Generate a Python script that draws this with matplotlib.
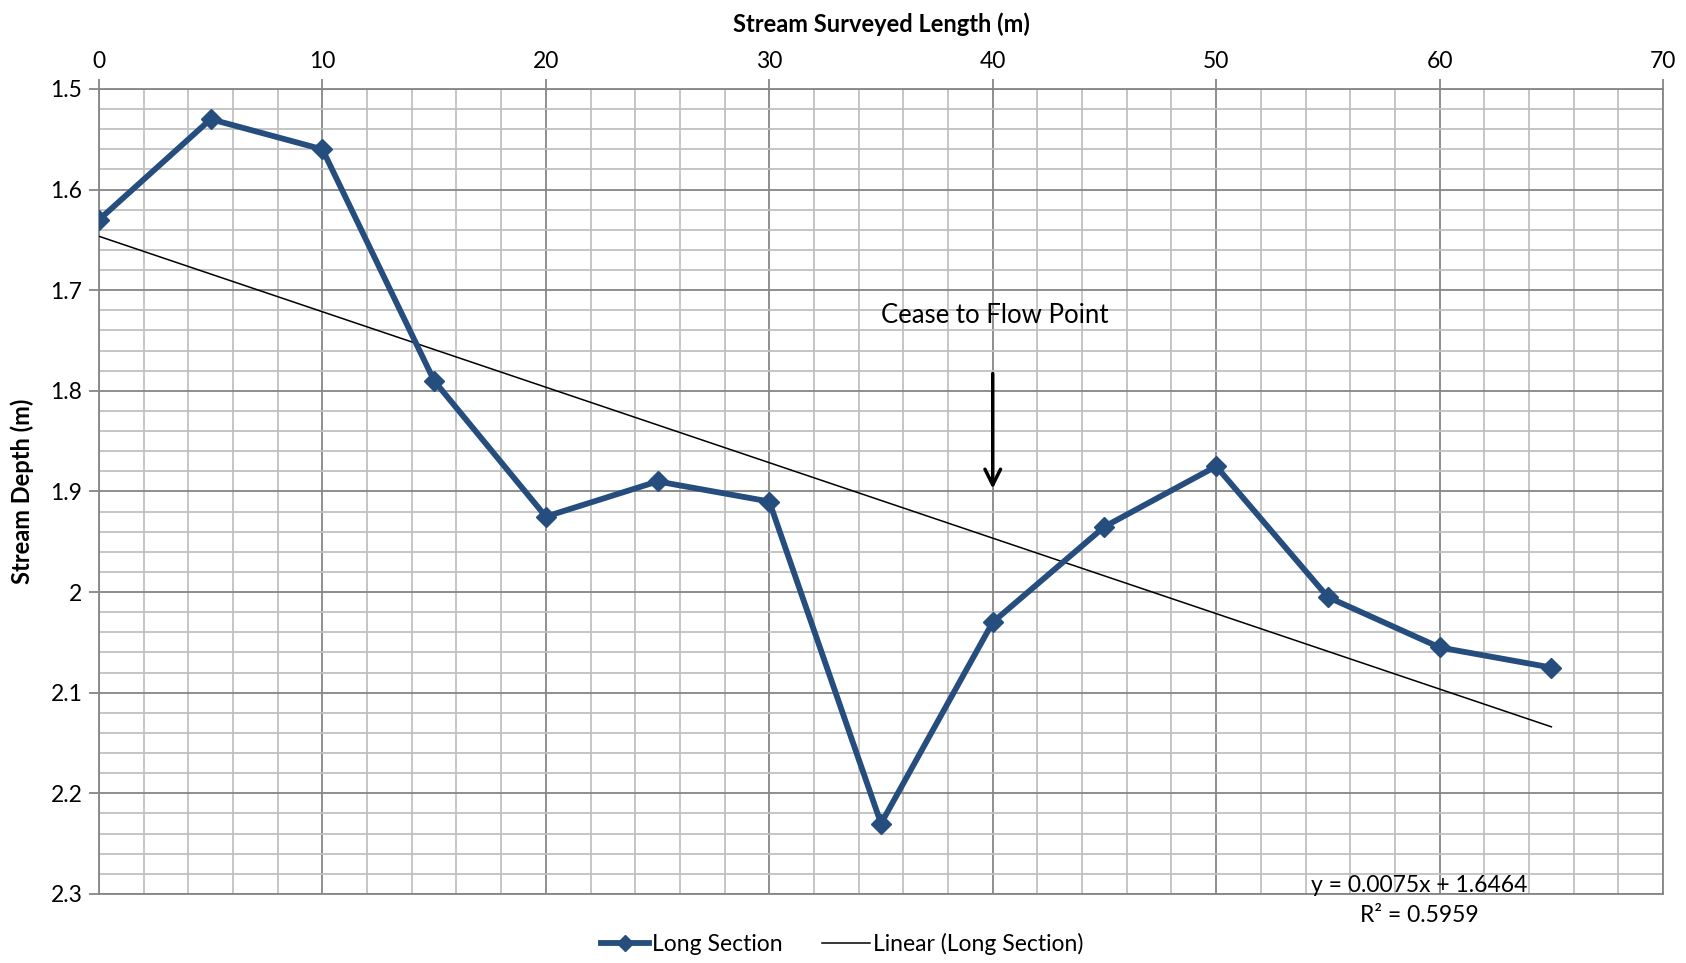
import matplotlib.pyplot as plt
from matplotlib.ticker import MultipleLocator
import numpy as np

plt.rcParams['font.family'] = ['Lato', 'DejaVu Sans']

# surveyed chainage (m) and measured depth (m)
length = [0, 5, 10, 15, 20, 25, 30, 35, 40, 45, 50, 55, 60, 65]
depth = [1.63, 1.53, 1.56, 1.79, 1.925, 1.89, 1.91, 2.23, 2.03, 1.935, 1.875, 2.005, 2.055, 2.075]

# trendline as reported on the chart
slope = 0.0075
intercept = 1.6464
r2 = 0.5959

line_col = '#254e7e'

fig = plt.figure(figsize=(16.86, 9.63), dpi=100)
ax = fig.add_axes([0.0587, 0.0717, 0.9277, 0.8359])

ax.plot(length, depth, color=line_col, lw=4.2, marker='D', ms=10,
        label='Long Section', zorder=4)

xt = np.array([length[0], length[-1]])
ax.plot(xt, slope * xt + intercept, color='black', lw=1.1,
        label='Linear (Long Section)', zorder=3)

ax.set_xlim(0, 70)
ax.set_ylim(2.3, 1.5)
ax.xaxis.set_major_locator(MultipleLocator(10))
ax.xaxis.set_minor_locator(MultipleLocator(2))
ax.yaxis.set_major_locator(MultipleLocator(0.1))
ax.yaxis.set_minor_locator(MultipleLocator(0.02))
ax.yaxis.set_major_formatter(plt.FuncFormatter(lambda v, p: '%g' % round(v, 2)))

ax.xaxis.tick_top()
ax.xaxis.set_label_position('top')
ax.tick_params(which='major', length=7, width=1.3, color='#868686',
               labelsize=16.5, pad=5)
ax.tick_params(which='minor', length=0)

ax.grid(which='minor', color='#c0c0c0', lw=1.3, zorder=0)
ax.grid(which='major', color='#868686', lw=1.3, zorder=0)
ax.set_axisbelow(True)
for s in ax.spines.values():
    s.set_color('#868686')
    s.set_linewidth(1.3)

ax.set_xlabel('Stream Surveyed Length (m)', fontsize=17, fontweight='bold', labelpad=14)
ax.set_ylabel('Stream Depth (m)', fontsize=17, fontweight='bold', labelpad=12)

ax.text(40.1, 1.725, 'Cease to Flow Point', fontsize=18.5, ha='center', va='center')
ax.annotate('', xy=(40, 1.90), xytext=(40, 1.78),
            arrowprops=dict(arrowstyle='->', color='black', lw=2.5,
                            mutation_scale=28))

fig.text(0.8416, 0.080, 'y = 0.0075x + 1.6464', fontsize=16.5, ha='center', va='center')
fig.text(0.8416, 0.049, 'R² = %.4f' % r2, fontsize=16.5, ha='center', va='center')

fig.legend(loc='center', bbox_to_anchor=(0.4995, 0.0196), ncol=2, frameon=False,
           fontsize=16.5, handlelength=2.1, columnspacing=1.75, handletextpad=0.1,
           markerscale=0.8)

fig.savefig('out.png', dpi=100)
